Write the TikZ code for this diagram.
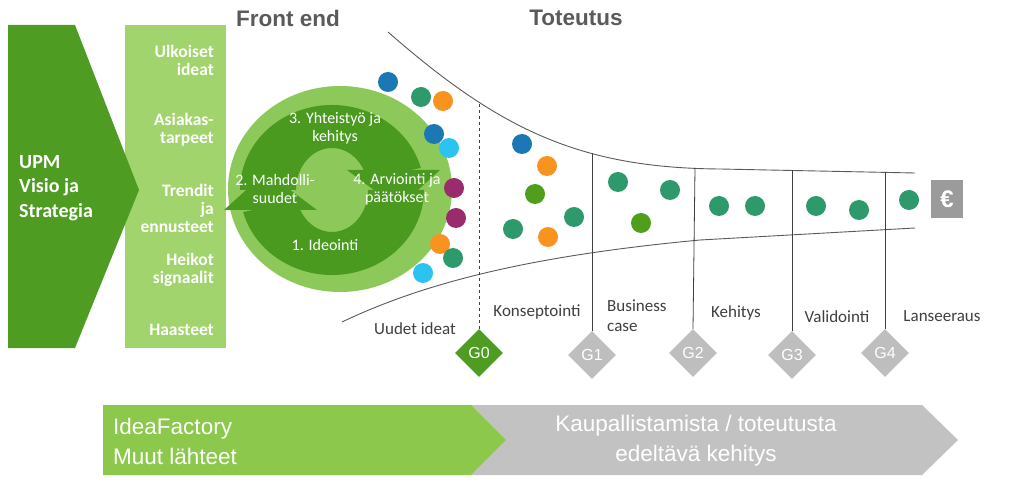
\documentclass[tikz,border=0pt]{standalone}
\usepackage{fontspec}
\setmainfont{Carlito}
\newfontfamily\arialfont{Liberation Sans}
\usetikzlibrary{shapes.geometric}

\definecolor{darkgreen}{HTML}{4E9C22}
\definecolor{lightgreen}{HTML}{A2D46E}
\definecolor{circlegreen}{HTML}{8DC85A}
\definecolor{ringgreen}{HTML}{4A9A20}
\definecolor{arrowgreen}{HTML}{8CC84B}
\definecolor{arrowgray}{HTML}{C2C2C2}
\definecolor{gategray}{HTML}{BEBEBE}
\definecolor{eurogray}{HTML}{9B9B9B}
\definecolor{headgray}{HTML}{5A5A5A}
\definecolor{labelgray}{HTML}{3F3F3F}
\definecolor{dotblue}{HTML}{1B78B4}
\definecolor{dotteal}{HTML}{2E9A6C}
\definecolor{dotorange}{HTML}{F7931E}
\definecolor{dotcyan}{HTML}{2CC3F2}
\definecolor{dotpurple}{HTML}{9A2B6C}
\definecolor{dotlime}{HTML}{4F9E1C}

\begin{document}
\begin{tikzpicture}[x=1pt,y=1pt,
  gate/.style={diamond,minimum size=48pt,inner sep=0pt,fill=gategray,text=white,font=\arialfont\fontsize{16}{16}\selectfont},
  phase/.style={text=labelgray,font=\fontsize{17}{20}\selectfont,inner sep=0pt},
  source/.style={text=white,font=\bfseries\fontsize{17.5}{18}\selectfont,align=right,anchor=east,inner sep=0pt},
  cycletxt/.style={text=white,font=\fontsize{16}{18}\selectfont,align=center,inner sep=0pt},
  dot/.style={circle,minimum size=20pt,inner sep=0pt},
  heading/.style={text=headgray,font=\arialfont\bfseries\fontsize{22.5}{22.5}\selectfont},
  bartext/.style={text=white,font=\arialfont\fontsize{22.5}{30}\selectfont,inner sep=0pt}
]
\useasboundingbox (0,0) rectangle (1024,-502);

% sources
\fill[lightgreen] (125,-25) rectangle (226,-348);
\fill[darkgreen] (8,-25) -- (75,-25) -- (139,-190) -- (75,-348) -- (8,-348) -- cycle;
\node[text=white,font=\bfseries\fontsize{20}{24.5}\selectfont,align=left,anchor=west,inner sep=0pt] (upm) at (19,-188) {UPM\\Visio ja\\Strategia};
\node[source] (ulkoiset) at (214,-60) {Ulkoiset\\ideat};
\node[source] (asiakas) at (214,-130) {Asiakas-\\tarpeet};
\node[source] (trendit) at (214,-208) {Trendit\\ja\\ennusteet};
\node[source] (heikot) at (214,-270) {Heikot\\signaalit};
\node[source] (haasteet) at (214,-330) {Haasteet};

% front end cycle
\fill[circlegreen] (340,-189) ellipse [x radius=112, y radius=103];
\begin{scope}[shift={(332,-190)}]
\fill[ringgreen] (15:92 and 85) arc[start angle=15,end angle=180,x radius=92,y radius=85] -- (180:36 and 42) arc[start angle=180,end angle=15,x radius=36,y radius=42] -- cycle;
\fill[ringgreen] (15,20) -- (108,20) -- (66,-18) -- cycle;
\fill[ringgreen] (195:92 and 85) arc[start angle=195,end angle=360,x radius=92,y radius=85] -- (0:36 and 42) arc[start angle=360,end angle=195,x radius=36,y radius=42] -- cycle;
\fill[ringgreen] (-15,-20) -- (-108,-20) -- (-66,18) -- cycle;
\end{scope}
\node[cycletxt] (yhteistyo) at (335,-128) {3. Yhteistyö ja\\kehitys};
\node[cycletxt] (mahdolli) at (275,-189) {2. Mahdolli-\\suudet};
\node[cycletxt] (arviointi) at (397,-189) {4. Arviointi ja\\päätökset};
\node[cycletxt] (ideointi) at (325,-245) {1. Ideointi};

\foreach \x/\y/\c [count=\i] in {388/82/dotblue,421/97/dotteal,443/101/dotorange,434/134/dotblue,449/148/dotcyan,
  454/188/dotpurple,456/218/dotpurple,440/244/dotorange,453/258/dotteal,423/273/dotcyan,
  522/144/dotblue,547/166/dotorange,535/194/dotlime,513/229/dotteal,548/237/dotorange,574/217/dotteal,
  618/182/dotteal,670/190/dotteal,641/223/dotlime,719/206/dotteal,755/206/dotteal,816/206/dotteal,859/210/dotteal,909/200/dotteal}
  \node[dot,fill=\c] (d\i) at (\x,-\y) {};

% funnel
\draw[headgray,line width=0.9pt] (388,-32) .. controls (500,-130) and (580,-168) .. (720,-169) -- (915,-173);
\draw[headgray,line width=0.9pt] (342,-322) .. controls (430,-280) and (540,-255) .. (700,-240) -- (915,-228);
\coordinate (t0) at (479,-103);
\coordinate (t1) at (592,-153);
\coordinate (t2) at (695,-168);
\coordinate (t3) at (792,-170.5);
\coordinate (t4) at (885,-172.4);

\node[gate,fill=darkgreen] (g0) at (479,-353) {G0};
\node[gate] (g1) at (592,-355) {G1};
\node[gate] (g2) at (693,-353) {G2};
\node[gate] (g3) at (792,-355) {G3};
\node[gate] (g4) at (885,-353) {G4};
\draw[labelgray,line width=0.8pt,dashed] (g0.north) -- (t0);
\foreach \i in {1,...,4}
  \draw[labelgray,line width=0.8pt] (g\i.north) -- (t\i);

\node[phase] (uudet) at (415,-329) {Uudet ideat};
\node[phase] (konsept) at (537,-312) {Konseptointi};
\node[phase,align=left,anchor=west] (business) at (607,-316) {Business\\case};
\node[phase] (kehitys) at (736,-313) {Kehitys};
\node[phase] (validointi) at (837,-317) {Validointi};
\node[phase] (lanseeraus) at (942,-316) {Lanseeraus};

\node[fill=eurogray,text=white,minimum width=32pt,minimum height=38pt,inner sep=0pt,font=\arialfont\bfseries\fontsize{24}{24}\selectfont] (euro) at (947,-199) {€};

\node[heading] (frontend) at (288,-18) {Front end};
\node[heading] (toteutus) at (576,-18) {Toteutus};

% bottom arrows
\fill[arrowgray] (471,-405) -- (922,-405) -- (958,-440) -- (922,-475) -- (471,-475) -- (506,-440) -- cycle;
\fill[arrowgreen] (103,-405) -- (471,-405) -- (506,-440) -- (471,-475) -- (103,-475) -- cycle;
\node[bartext,align=left,anchor=west] (ideafactory) at (113,-441) {IdeaFactory\\Muut lähteet};
\node[bartext,align=center] (kaupall) at (696,-441) {Kaupallistamista / toteutusta\\edeltävä kehitys};
\end{tikzpicture}
\end{document}
